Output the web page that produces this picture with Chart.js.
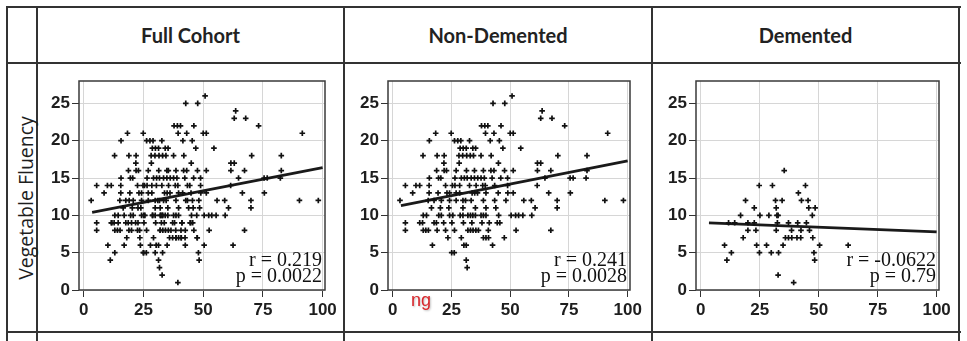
<!DOCTYPE html>
<html>
<head>
<meta charset="utf-8">
<script src="https://cdn.jsdelivr.net/npm/chart.js@4.4.0/dist/chart.umd.min.js"></script>
<style>
  body { margin: 0; background: #fff; width: 967px; height: 341px; overflow: hidden; position: relative; }
  .hl { position: absolute; height: 2px; background: #333; }
  .vl { position: absolute; width: 2px; background: #333; }
  .head { position: absolute; top: 7px; height: 56px; text-align: center;
          font: bold 20px Lato, sans-serif; line-height: 56px; color: #222; }
  #ytitle { position: absolute; left: 25px; top: 198px; transform: translate(-50%, -50%) rotate(-90deg);
            white-space: nowrap; font: 19.5px "Open Sans", sans-serif; color: #1e1e1e; }
  #ng { position: absolute; left: 411px; top: 290px; font: 18px "Liberation Sans", sans-serif; color: #d9262b;
        text-shadow: 1px 1px 2px rgba(0,0,0,0.25); }
  canvas { position: absolute; top: 70px; }
</style>
</head>
<body>
<div class="hl" style="left:6px;width:955px;top:6px"></div>
<div class="hl" style="left:6px;width:955px;top:62px"></div>
<div class="hl" style="left:6px;width:955px;top:331px"></div>
<div class="vl" style="left:6px;top:6px;height:335px"></div>
<div class="vl" style="left:36px;top:6px;height:335px"></div>
<div class="vl" style="left:343px;top:6px;height:335px"></div>
<div class="vl" style="left:651px;top:6px;height:335px"></div>
<div class="vl" style="left:958px;top:6px;height:335px"></div>

<div class="head" id="h0" style="left:37px;width:307px"></div>
<div class="head" id="h1" style="left:344px;width:308px"></div>
<div class="head" id="h2" style="left:652px;width:307px"></div>
<div id="ytitle"></div>

<canvas id="c0"></canvas>
<canvas id="c1"></canvas>
<canvas id="c2"></canvas>
<div id="ng">ng</div>

<script>
const panelTitles = ['Full Cohort', 'Non-Demented', 'Demented'];
const yTitle = 'Vegetable Fluency';
const xTicks = [0, 25, 50, 75, 100];
const yTicks = [0, 5, 10, 15, 20, 25];
const rValues = ['0.219', '0.241', '-0.0622'];
const pValues = ['0.0022', '0.0028', '0.79'];

// fitted lines: y at x = fitX[0] and at x = fitX[1]
const fitX = [3.5, 100];
const fitFull = [10.4, 16.4];
const fitNonDemented = [11.3, 17.3];
const fitDemented = [9.0, 7.8];

// [x, y]
const nonDemented = [
  [50.8,26],
  [42.7,25],[47.7,25],
  [63.6,24],
  [63,23],[67.8,23],
  [37.8,22],[39.2,22],[40.5,22],[46.1,22],[73.2,22],
  [18.3,21],[24.9,21],[39.5,21],[43.1,21],[50,21],[51.3,21],[91.5,21],
  [15.6,20],[26.3,20],[27.7,20],[29,20],[32.7,20],[41.5,20],[45.4,20],
  [28.7,19],[30,19],[31.3,19],[34.1,19],[35.3,19],[46.9,19],[54.5,19],
  [12.9,18],[18.9,18],[21.9,18],[28.2,18],[29.8,18],[31.5,18],[33,18],[34.4,18],[37.6,18],[41.9,18],[70.3,18],[82.7,18],
  [21.8,17],[28.3,17],[45,17],[61.6,17],[63,17],
  [18.7,16],[21.9,16],[22.9,16],[27,16],[31.4,16],[34.8,16],[38.6,16],[41.8,16],[43.1,16],[47.6,16],[51.3,16],[61.6,16],[67.3,16],[82.7,16],
  [15.6,15],[19.5,15],[20.5,15],[26.5,15],[29.2,15],[30.5,15],[31.7,15],[33.4,15],[34.8,15],[36.2,15],[37.6,15],[39,15],[42.3,15],[46,15],[48.9,15],[64.8,15],[75.5,15],[76.8,15],[82.3,15],
  [5.4,14],[9.9,14],[11.5,14],[15.5,14],[22.5,14],[25.4,14],[26.5,14],[28.5,14],[32.7,14],[35.5,14],[38.3,14],[39.4,14],[43.4,14],[48.9,14],[61.5,14],
  [8.5,13],[15.5,13],[19.3,13],[23.1,13],[24.2,13],[27,13],[28.5,13],[33.8,13],[34.9,13],[36.1,13],[39.7,13],[44.9,13],[49,13],[51.3,13],[66.4,13],[75.6,13],
  [3.1,12],[15.1,12],[17.6,12],[20.7,12],[24.2,12],[27,12],[29.9,12],[31,12],[33.4,12],[38.6,12],[43.4,12],[48.2,12],[55.8,12],[59,12],[70,12],[90.3,12],[98.2,12],
  [16.5,11],[20.3,11],[23.9,11],[29.9,11],[35.2,11],[39.7,11],[43.9,11],[60.6,11],[70,11],
  [13,10],[14.4,10],[19.6,10],[20.7,10],[24.2,10],[25.6,10],[28.7,10],[29.9,10],[32,10],[33.1,10],[34.1,10],[35.2,10],[37.6,10],[38.6,10],[39.7,10],[45.1,10],[50.4,10],[52.3,10],[53.6,10],[55.4,10],[59.2,10],
  [5.4,9],[11.5,9],[12.7,9],[17.6,9],[18.6,9],[21.7,9],[25.2,9],[30.1,9],[33.7,9],[38,9],[41.1,9],[44.5,9],[45.6,9],
  [5.4,8],[13,8],[14.1,8],[15.2,8],[18.9,8],[22.5,8],[26.3,8],[32,8],[33.1,8],[34.2,8],[35.4,8],[36.5,8],[40.7,8],[52.5,8],[67.3,8],
  [23.5,7],[29.2,7],[38.6,7],[39.7,7],[40.8,7],[47.5,7],
  [16.9,6],[30.3,6],[31.3,6],[42.5,6],
  [25.1,5],[26.2,5],
  [31.3,4],
  [31.7,3]
];

const demented = [
  [35.4,16],
  [24.8,14],[30.4,14],[44.4,14],
  [41.4,13],
  [19,12],[31.7,12],[34.5,12],[42.7,12],[45.5,12],
  [22.7,11],[32,11],[45.8,11],[48.5,11],
  [16.9,10],[25.1,10],[28.9,10],[32.3,10],[32.8,10],[47.3,10],
  [11.8,9],[14.4,9],[20,9],[22.7,9],[32.5,9],[37.2,9],[41.1,9],[44.8,9],
  [20,8],[23.4,8],[32,8],[38.5,8],[42.5,8],[46.1,8],
  [18,7],[35.9,7],[37.2,7],[38.6,7],[40.8,7],[42.4,7],[47.5,7],
  [10.1,6],[23.7,6],[27.9,6],[34.9,6],[50.4,6],[62.5,6],
  [13,5],[24.9,5],[29.9,5],[33,5],[48,5],
  [11.1,4],[48.3,4],
  [32.8,2],
  [39.4,1]
];

// the full cohort is both groups together
const fullCohort = nonDemented.concat(demented);

document.getElementById('ytitle').textContent = yTitle;
panelTitles.forEach((t, i) => document.getElementById('h' + i).textContent = t);

// frame around the plot area
const framePlugin = {
  id: 'frame',
  beforeDatasetsDraw(chart) {
    const a = chart.chartArea, ctx = chart.ctx;
    ctx.save();
    ctx.strokeStyle = '#3a3a3a';
    ctx.lineWidth = 1.5;
    ctx.strokeRect(a.left, a.top, a.right - a.left, a.bottom - a.top);
    ctx.restore();
  }
};

// r / p text at the lower right
const statsPlugin = {
  id: 'stats',
  afterDatasetsDraw(chart, args, opts) {
    const a = chart.chartArea, ctx = chart.ctx;
    ctx.save();
    ctx.font = '20px "Liberation Serif", serif';
    ctx.fillStyle = '#111';
    ctx.textAlign = 'right';
    ctx.textBaseline = 'alphabetic';
    ctx.fillText('r = ' + opts.r, a.right - 3, a.bottom - 24);
    ctx.fillText('p = ' + opts.p, a.right - 3, a.bottom - 8);
    ctx.restore();
  }
};

const tickFont = { family: '"Liberation Sans", Arial, sans-serif', size: 17, weight: 'bold' };

function noPad(s) {
  s.paddingTop = 0; s.paddingBottom = 0; s.paddingLeft = 0; s.paddingRight = 0;
}

function makeChart(id, frameLeft, frameWidth, points, fitY, r, p) {
  const cv = document.getElementById(id);
  const w = 39 + frameWidth + 20, h = 255;
  cv.width = w; cv.height = h;
  cv.style.width = w + 'px'; cv.style.height = h + 'px';
  cv.style.left = (frameLeft - 39) + 'px';

  return new Chart(cv, {
    type: 'scatter',
    data: {
      datasets: [
        {
          data: points.map(d => ({ x: d[0], y: d[1] })),
          pointStyle: 'cross',
          pointRadius: 2.8,
          borderWidth: 1.7,
          borderColor: '#111',
          backgroundColor: '#111'
        },
        {
          data: [{ x: fitX[0], y: fitY[0] }, { x: fitX[1], y: fitY[1] }],
          showLine: true,
          pointRadius: 0,
          borderColor: '#1a1a1a',
          borderWidth: 2.8
        }
      ]
    },
    options: {
      responsive: false,
      animation: false,
      layout: { padding: { top: 11, right: 20, left: 0, bottom: 0 } },
      plugins: { legend: { display: false }, tooltip: { enabled: false }, stats: { r: r, p: p } },
      scales: {
        x: {
          type: 'linear', min: -2, max: 101,
          afterBuildTicks: s => { s.ticks = xTicks.map(v => ({ value: v })); },
          afterFit: s => { s.height = 35; noPad(s); },
          grid: { color: '#d6d6d6', lineWidth: 1, tickColor: '#333', tickLength: 7 },
          border: { display: false },
          ticks: { font: tickFont, color: '#1e1e1e', padding: 3, maxRotation: 0 }
        },
        y: {
          type: 'linear', min: 0, max: 28,
          afterBuildTicks: s => { s.ticks = yTicks.map(v => ({ value: v })); },
          afterFit: s => { s.width = 39; noPad(s); },
          grid: { color: '#d6d6d6', lineWidth: 1, tickColor: '#333', tickLength: 7 },
          border: { display: false },
          ticks: { font: tickFont, color: '#1e1e1e', padding: 2 }
        }
      }
    },
    plugins: [framePlugin, statsPlugin]
  });
}

makeChart('c0', 79, 246, fullCohort, fitFull, rValues[0], pValues[0]);
makeChart('c1', 388, 242, nonDemented, fitNonDemented, rValues[1], pValues[1]);
makeChart('c2', 696, 243, demented, fitDemented, rValues[2], pValues[2]);
</script>
</body>
</html>
